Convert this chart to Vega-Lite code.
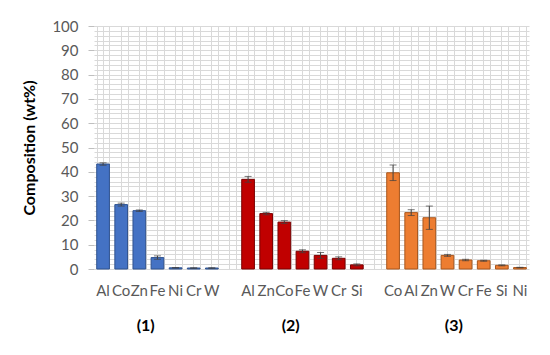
{
  "$schema": "https://vega.github.io/schema/vega-lite/v6.json",
  "width": 435,
  "height": 243,
  "autosize": {"type": "none"},
  "padding": {"left": 94, "top": 26, "right": 21, "bottom": 86},
  "background": "white",
  "config": {"view": {"stroke": null}, "font": "Lato"},
  "data": {
    "values": [
      {"group": "(1)", "slot": "1-Al", "value": 43.2, "err": 0.5},
      {"group": "(1)", "slot": "1-Co", "value": 26.5, "err": 0.6},
      {"group": "(1)", "slot": "1-Zn", "value": 24.0, "err": 0.3},
      {"group": "(1)", "slot": "1-Fe", "value": 4.7, "err": 0.7},
      {"group": "(1)", "slot": "1-Ni", "value": 0.5, "err": 0.1},
      {"group": "(1)", "slot": "1-Cr", "value": 0.4, "err": 0.1},
      {"group": "(1)", "slot": "1-W", "value": 0.4, "err": 0.1},
      {"group": "(2)", "slot": "2-Al", "value": 36.9, "err": 1.2},
      {"group": "(2)", "slot": "2-Zn", "value": 22.8, "err": 0.5},
      {"group": "(2)", "slot": "2-Co", "value": 19.3, "err": 0.6},
      {"group": "(2)", "slot": "2-Fe", "value": 7.3, "err": 0.6},
      {"group": "(2)", "slot": "2-W", "value": 5.6, "err": 1.2},
      {"group": "(2)", "slot": "2-Cr", "value": 4.4, "err": 0.6},
      {"group": "(2)", "slot": "2-Si", "value": 1.7, "err": 0.4},
      {"group": "(3)", "slot": "3-Co", "value": 39.6, "err": 3.2},
      {"group": "(3)", "slot": "3-Al", "value": 23.2, "err": 1.2},
      {"group": "(3)", "slot": "3-Zn", "value": 21.1, "err": 4.8},
      {"group": "(3)", "slot": "3-W", "value": 5.6, "err": 0.4},
      {"group": "(3)", "slot": "3-Cr", "value": 3.7, "err": 0.3},
      {"group": "(3)", "slot": "3-Fe", "value": 3.4, "err": 0.2},
      {"group": "(3)", "slot": "3-Si", "value": 1.5, "err": 0.2},
      {"group": "(3)", "slot": "3-Ni", "value": 0.6, "err": 0.1}
    ]
  },
  "layer": [
    {
      "mark": {"type": "bar", "strokeWidth": 1},
      "encoding": {
        "x": {
          "field": "slot",
          "type": "nominal",
          "scale": {
            "domain": ["1-Al","1-Co","1-Zn","1-Fe","1-Ni","1-Cr","1-W","g1","2-Al","2-Zn","2-Co","2-Fe","2-W","2-Cr","2-Si","g2","3-Co","3-Al","3-Zn","3-W","3-Cr","3-Fe","3-Si","3-Ni"],
            "paddingInner": 0.3,
            "paddingOuter": 0.15
          },
          "axis": {
            "title": null,
            "labelExpr": "indexof(datum.value, '-') >= 0 ? split(datum.value, '-')[1] : ''",
            "labelAngle": 0,
            "labelFontSize": 15,
            "labelColor": "#595959",
            "labelPadding": 14,
            "ticks": false,
            "domain": false,
            "grid": true,
            "gridColor": "#D9D9D9",
            "labelOverlap": false
          }
        },
        "y": {
          "field": "value",
          "type": "quantitative",
          "title": "Composition (wt%)",
          "scale": {"domain": [0, 100], "nice": false},
          "axis": {
            "tickCount": 50,
            "grid": true,
            "gridColor": "#D9D9D9",
            "domain": false,
            "tickColor": "#BFBFBF",
            "tickSize": 6,
            "tickOpacity": {"condition": {"test": "datum.value % 10 === 0", "value": 1}, "value": 0},
            "labelExpr": "datum.value % 10 === 0 ? datum.label : ''",
            "labelFontSize": 15,
            "labelColor": "#595959",
            "labelPadding": 10,
            "titleFontSize": 16,
            "titleFontWeight": "bold",
            "titleColor": "#000000",
            "titlePadding": 14
          }
        },
        "fill": {
          "field": "group",
          "type": "nominal",
          "scale": {"domain": ["(1)", "(2)", "(3)"], "range": ["#4472C4", "#C00000", "#ED7D31"]},
          "legend": null
        },
        "stroke": {
          "field": "group",
          "type": "nominal",
          "scale": {"domain": ["(1)", "(2)", "(3)"], "range": ["#2F528F", "#7A0000", "#A9561C"]},
          "legend": null
        }
      }
    },
    {
      "mark": {"type": "errorbar", "ticks": {"size": 7, "color": "#404040"}, "rule": {"color": "#404040"}, "color": "#404040"},
      "encoding": {
        "x": {"field": "slot", "type": "nominal", "axis": null},
        "y": {"field": "value", "type": "quantitative", "title": "Composition (wt%)"},
        "yError": {"field": "err"}
      }
    },
    {
      "data": {
        "values": [
          {"label": "(1)", "slot": "1-Zn"},
          {"label": "(2)", "slot": "2-Co"},
          {"label": "(3)", "slot": "3-W"}
        ]
      },
      "mark": {"type": "text", "fontSize": 16, "fontWeight": "bold", "color": "#000000", "baseline": "middle"},
      "encoding": {
        "x": {
          "field": "slot",
          "type": "nominal",
          "bandPosition": 1,
          "axis": {
            "orient": "top",
            "title": null,
            "labels": false,
            "ticks": false,
            "domain": false,
            "grid": true,
            "gridColor": "#D9D9D9",
            "tickBand": "extent"
          }
        },
        "y": {"datum": -23.5, "type": "quantitative", "title": "Composition (wt%)"},
        "text": {"field": "label", "type": "nominal"}
      }
    }
  ],
  "resolve": {"axis": {"x": "independent"}}
}
